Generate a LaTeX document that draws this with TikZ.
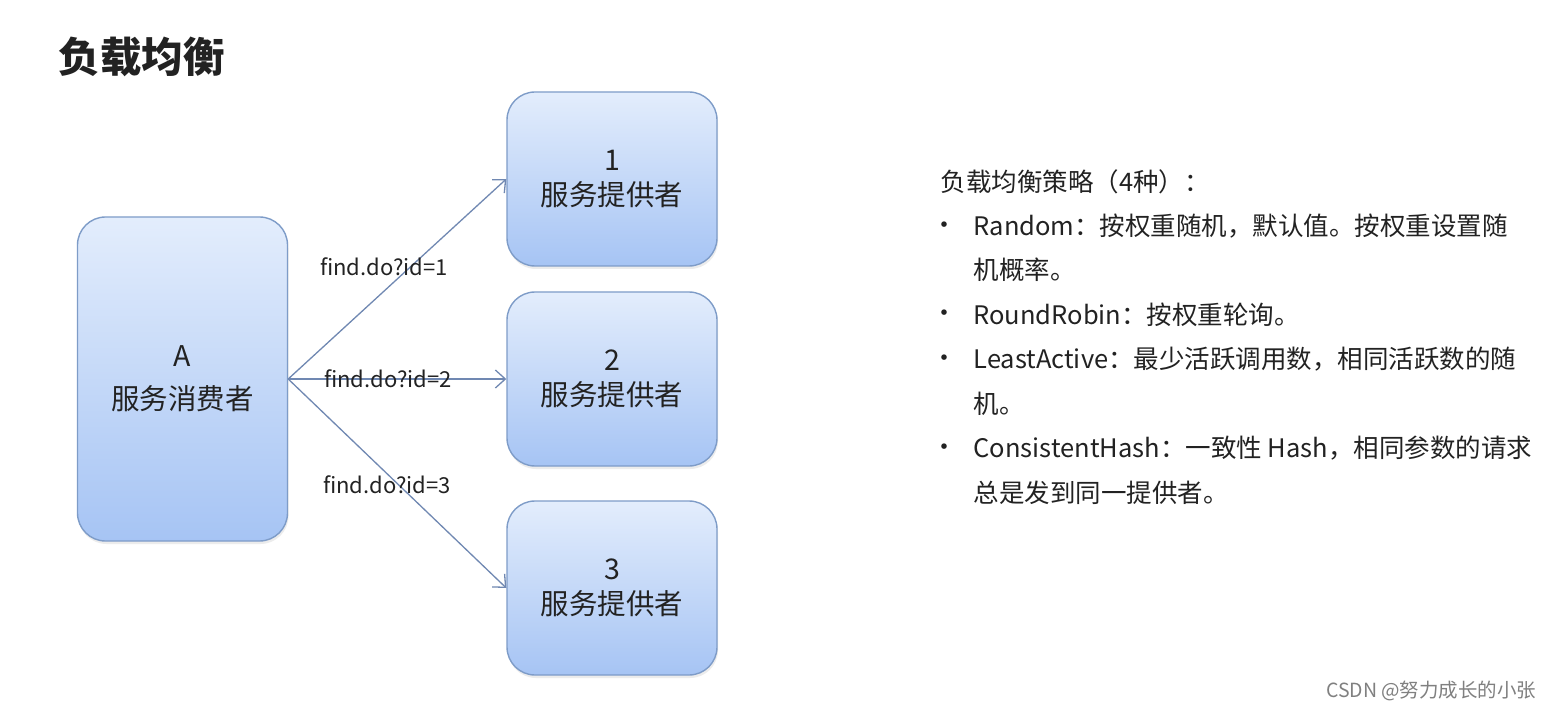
\documentclass[tikz,border=0pt]{standalone}
\usepackage{fontspec}
\setmainfont{Noto Sans CJK SC}
\usepackage{xcolor}
\usetikzlibrary{arrows.meta,shadows}
\definecolor{boxtop}{HTML}{E3EDFC}
\definecolor{boxbot}{HTML}{A6C4F4}
\definecolor{boxline}{HTML}{7E9CC8}
\definecolor{arrowline}{HTML}{7088B2}
\definecolor{txt}{HTML}{222222}
\begin{document}
\begin{tikzpicture}[x=1pt,y=-1pt,
  server/.style={draw=boxline,line width=1.4pt,rounded corners=28pt,
    top color=boxtop,bottom color=boxbot,minimum width=210pt,
    align=center,font=\fontsize{28.5}{35}\selectfont,text=txt,
    drop shadow={opacity=0.15,shadow xshift=1pt,shadow yshift=-3pt}},
  call/.style={draw=arrowline,line width=1.3pt,-{Straight Barb[length=10pt,width=18pt]}},
  clabel/.style={font=\fontsize{22}{25}\selectfont,text=txt},
  item/.style={anchor=west,font=\fontsize{25.5}{30}\selectfont,text=txt},
]
\fill[white] (0,0) rectangle (1553,711);
\useasboundingbox (0,0) rectangle (1553,711);
\node[anchor=west,font=\fontsize{41.5}{48}\selectfont\bfseries,text=txt] (title) at (55,57) {负载均衡};
\node[server,minimum height=324pt] (cons) at (182.5,379) {A\\[8pt]服务消费者};
\foreach \n/\y in {1/179,2/379,3/588} {
  \node[server,minimum height=174pt] (p\n) at (612,\y) {\n\\服务提供者};
  \draw[call] (cons.east) -- (p\n.west);
}
\node[clabel] (l1) at (384,267) {find.do?id=1};
\node[clabel] (l2) at (388,379) {find.do?id=2};
\node[clabel] (l3) at (387,485) {find.do?id=3};
% strategies
\node[item] (head) at (937,182) {负载均衡策略（4种）：};
\foreach \y in {228,316,361,450}
  \node[item,anchor=center,font=\fontsize{26}{28}\selectfont] at (944,\y) {•};
\node[item] (s1) at (970,226) {Random：按权重随机，默认值。按权重设置随};
\node[item] (s1b) at (970,270) {机概率。};
\node[item] (s2) at (970,315) {RoundRobin：按权重轮询。};
\node[item] (s3) at (970,359) {LeastActive：最少活跃调用数，相同活跃数的随};
\node[item] (s3b) at (970,404) {机。};
\node[item] (s4) at (970,448) {ConsistentHash：一致性 Hash，相同参数的请求};
\node[item] (s4b) at (970,493) {总是发到同一提供者。};
\node[anchor=east,font=\fontsize{19.5}{22}\selectfont,text=gray] (mark) at (1540,691) {CSDN @努力成长的小张};
\end{tikzpicture}
\end{document}
